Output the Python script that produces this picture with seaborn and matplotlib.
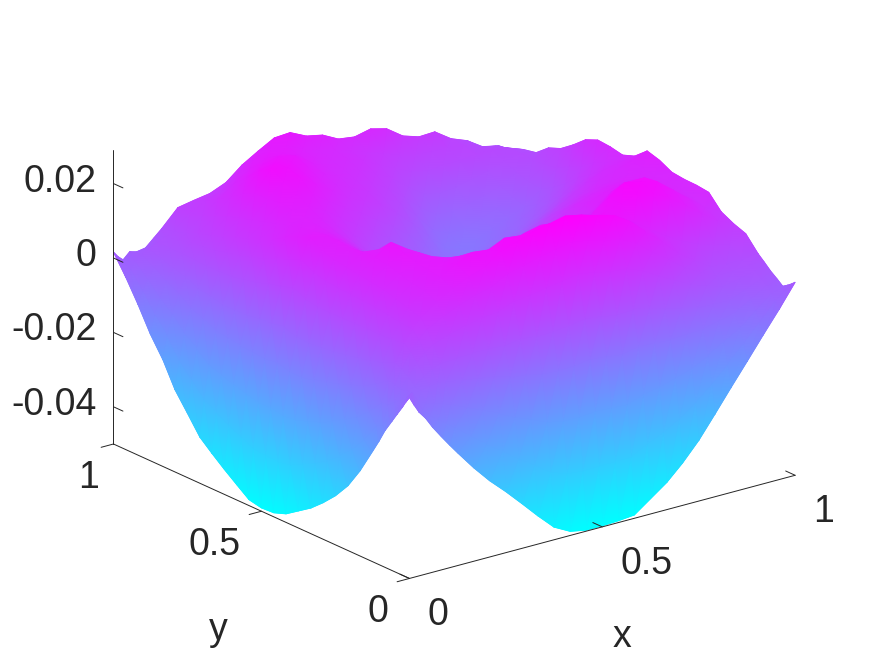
import matplotlib
matplotlib.use("Agg")
import matplotlib.pyplot as plt
import matplotlib.tri as mtri
import numpy as np
import seaborn as sns
from mpl_toolkits.mplot3d import proj3d

# grid is finer along the two steep front edges
x_grid = [0, .012, .025, .042, .06, .083, .104, .125, .167, .208, .25, .292, .333, .375, .417,
          .458, .5, .542, .583, .625, .667, .708, .75, .792, .833, .875, .917, .958, 1]
y_grid = list(x_grid)

x_ticks = [0, 0.5, 1]
y_ticks = [0, 0.5, 1]
z_ticks = [-0.04, -0.02, 0, 0.02]
x_tick_labels = ["0", "0.5", "1"]
y_tick_labels = ["0", "0.5", "1"]
z_tick_labels = ["-0.04", "-0.02", "0", "0.02"]

# height, in units of 1e-4, one row per y_grid value
z_rows = [
    [-14,-37,-60,-81,-110,-142,-170,-197,-249,-295,-336,-380,-424,-466,-489,-497,-497,-495,-491,-459,-427,-386,-337,-278,-219,-160,-100,-43,19],
    [-30,-15,-40,-62,-85,-101,-117,-134,-169,-201,-230,-262,-291,-322,-337,-342,-340,-340,-339,-316,-296,-271,-239,-201,-160,-118,-71,-25,10],
    [-50,-30,-18,-48,-55,-64,-70,-77,-97,-116,-134,-156,-172,-192,-201,-202,-198,-200,-203,-187,-178,-167,-152,-131,-106,-81,-45,-10,2],
    [-74,-50,-38,-30,-28,-24,-20,-23,-30,-37,-44,-56,-59,-69,-72,-70,-64,-68,-74,-65,-66,-70,-69,-66,-56,-45,-20,5,-7],
    [-100,-72,-50,-30,-24,-3,10,19,22,25,25,21,28,24,27,31,38,33,25,28,19,5,-5,-16,-17,-18,-1,17,5],
    [-133,-100,-65,-36,-7,25,46,63,78,90,99,104,120,125,133,140,148,141,131,128,111,86,63,39,25,11,19,29,19],
    [-170,-131,-79,-30,6,46,73,95,118,137,153,163,187,197,209,218,227,219,207,200,177,143,112,77,54,32,33,38,35],
    [-204,-139,-81,-26,16,62,94,120,150,175,195,210,240,255,270,280,290,281,268,257,229,189,151,108,78,49,45,45,50],
    [-271,-191,-119,-50,2,58,98,130,165,190,215,235,230,250,245,255,255,255,250,240,225,200,170,140,115,95,80,70,89],
    [-326,-233,-149,-70,-9,56,103,140,170,195,205,210,205,205,210,225,235,225,200,215,225,235,250,240,215,185,150,120,101],
    [-368,-264,-171,-83,-16,57,109,150,180,200,205,190,170,160,155,150,140,120,150,175,205,235,265,255,245,210,175,140,118],
    [-402,-291,-190,-96,-23,55,110,155,190,210,200,165,130,110,100,95,90,90,110,130,155,190,225,240,240,210,175,150,155],
    [-431,-313,-206,-106,-29,54,113,160,195,225,195,150,105,75,60,55,55,60,75,95,120,150,180,200,210,195,175,160,159],
    [-454,-330,-219,-114,-33,54,115,165,195,190,155,110,70,40,25,20,25,35,55,80,110,140,165,180,190,190,175,165,160],
    [-477,-348,-231,-121,-37,54,118,170,190,160,120,80,40,15,0,-5,0,15,35,65,95,120,145,160,170,175,170,165,164],
    [-489,-355,-235,-121,-34,60,126,180,195,165,125,85,45,15,-5,-15,-15,-5,15,40,70,90,115,135,150,160,165,170,181],
    [-491,-353,-228,-111,-21,76,145,200,195,170,135,95,55,20,-10,-25,-30,-20,-5,15,40,60,85,105,125,145,160,175,191],
    [-484,-350,-230,-116,-29,65,131,185,190,175,145,105,65,30,0,-20,-35,-35,-25,-10,10,30,50,75,100,125,145,155,162],
    [-459,-333,-220,-113,-31,57,120,170,185,180,155,120,80,45,15,-10,-30,-45,-45,-35,-20,-5,15,40,65,95,120,140,150],
    [-433,-316,-211,-112,-37,45,103,150,175,185,170,140,105,70,40,10,-15,-40,-55,-55,-45,-30,-15,5,30,60,95,125,157],
    [-405,-297,-200,-108,-38,38,92,135,165,190,190,165,135,105,75,45,15,-15,-45,-65,-65,-55,-40,-25,0,30,65,100,160],
    [-376,-277,-188,-103,-39,31,80,120,155,195,205,195,165,135,110,80,50,15,-20,-55,-70,-75,-60,-40,-20,5,40,85,146],
    [-327,-240,-161,-87,-30,31,75,110,145,190,225,225,195,165,135,115,95,60,20,-25,-65,-75,-70,-50,-35,-15,20,65,117],
    [-279,-204,-137,-73,-25,28,65,95,135,190,245,235,210,180,155,135,115,85,60,15,-35,-55,-55,-40,-25,-5,25,60,92],
    [-213,-153,-100,-49,-10,31,61,85,125,175,225,235,225,200,170,150,130,110,85,50,10,-20,-25,-15,-5,10,35,55,79],
    [-160,-113,-71,-31,0,33,56,75,110,150,190,215,225,215,185,160,145,130,110,85,50,20,10,15,25,35,50,60,51],
    [-95,-64,-36,-10,10,32,48,60,95,130,160,190,205,205,190,170,155,145,130,105,85,65,55,60,60,65,65,60,44],
    [-37,-20,-4,11,22,34,43,50,90,110,125,160,190,200,200,180,165,155,140,125,110,95,85,80,80,75,60,50,28],
    [16,0,-12,5,0,4,24,44,89,97,104,122,157,183,207,210,189,180,158,152,162,151,120,106,108,78,61,33,24],
]
z_scale = 1e-4
z_min = -0.05
z_max = 0.029

sns.set_theme(style="white", font="Liberation Sans")
plt.rcParams["font.family"] = ["Liberation Sans", "DejaVu Sans"]
ink = "#262626"
label_size = 27

X, Y = np.meshgrid(x_grid, y_grid)
Z = np.array(z_rows) * z_scale

fig = plt.figure(figsize=(8.75, 6.56), dpi=100)
rect = [43.5 / 875, -67.5 / 656, 800 / 875, 800 / 656]
ax = fig.add_axes(rect, projection="3d", zorder=2)
ax.patch.set_visible(False)
ax.set_proj_type("ortho")
ax.view_init(elev=20.4, azim=-127.5)
ax.set_box_aspect((1, 1, 0.645), zoom=0.917)
ax.set_xlim(0, 1)
ax.set_ylim(0, 1)
ax.set_zlim(z_min, z_max)
ax.set_xticks(x_ticks, ["" for _ in x_ticks])
ax.set_yticks(y_ticks, ["" for _ in y_ticks])
ax.set_zticks(z_ticks, ["" for _ in z_ticks])
ax.grid(False)
ax.zaxis._get_tickdir = lambda pos: 1
for axis, out in ((ax.xaxis, 0.4), (ax.yaxis, -0.4), (ax.zaxis, -0.4)):
    axis.set_pane_color((1, 1, 1, 0))
    axis.line.set_color(ink)
    axis.line.set_linewidth(0.7)
    axis._axinfo["tick"].update(inward_factor=0, outward_factor=out, color=ink,
                                linewidth={True: 0.7, False: 0.7})

# flat 2D axes below the 3D box, it shares the box's view coordinates so the
# surface can use gouraud shading like the original's interpolated shading
flat = fig.add_axes(rect, zorder=1)
flat.set_xlim(-0.095, 0.09)
flat.set_ylim(-0.095, 0.09)
flat.axis("off")

M = ax.get_proj()


def to_view(x, y, z):
    px, py, depth = proj3d.proj_transform(np.asarray(x, float), np.asarray(y, float), np.asarray(z, float), M)
    return px, py, depth


px, py, depth = to_view(X.ravel(), Y.ravel(), Z.ravel())
n_y, n_x = Z.shape
corner = np.arange(n_y * n_x).reshape(n_y, n_x)
a, b, c, d = corner[:-1, :-1].ravel(), corner[:-1, 1:].ravel(), corner[1:, 1:].ravel(), corner[1:, :-1].ravel()
triangles = np.vstack([np.column_stack([a, b, c]), np.column_stack([a, c, d])])
# far triangles first
triangles = triangles[np.argsort(-depth[triangles].mean(axis=1))]
mesh = mtri.Triangulation(px, py, triangles)
cool = sns.color_palette("cool", as_cmap=True)

# plain polygons underneath give the outline its antialiasing
flat.tripcolor(mesh, Z.ravel(), shading="flat", cmap=cool, vmin=z_min, vmax=z_max,
               edgecolors="face", linewidth=0.5, zorder=1)
flat.tripcolor(mesh, Z.ravel(), shading="gouraud", cmap=cool, vmin=z_min, vmax=z_max, zorder=2)


def tick_labels(xs, ys, zs, labels, offsets, ha, va):
    for x, y, z, label, offset in zip(xs, ys, zs, labels, offsets):
        tx, ty, _ = to_view(x, y, z)
        flat.annotate(label, xy=(float(tx), float(ty)), xytext=offset, textcoords="offset pixels",
                      ha=ha, va=va, fontsize=label_size, color=ink, annotation_clip=False)


tick_labels(x_ticks, [0] * 3, [z_min] * 3, x_tick_labels, [(18, -19)] * 3, "left", "top")
tick_labels([0] * 3, y_ticks, [z_min] * 3, y_tick_labels, [(-21, -16), (-21, -16), (-14, -16)], "right", "top")
tick_labels([0] * 4, [1] * 4, z_ticks, z_tick_labels, [(-17, 2)] * 4, "right", "center")

fig.text(622 / 875, 1 - 637 / 656, "x", ha="center", va="center", fontsize=label_size, color=ink)
fig.text(218 / 875, 1 - 630 / 656, "y", ha="center", va="center", fontsize=label_size, color=ink)

fig.savefig("out.png", dpi=100)
